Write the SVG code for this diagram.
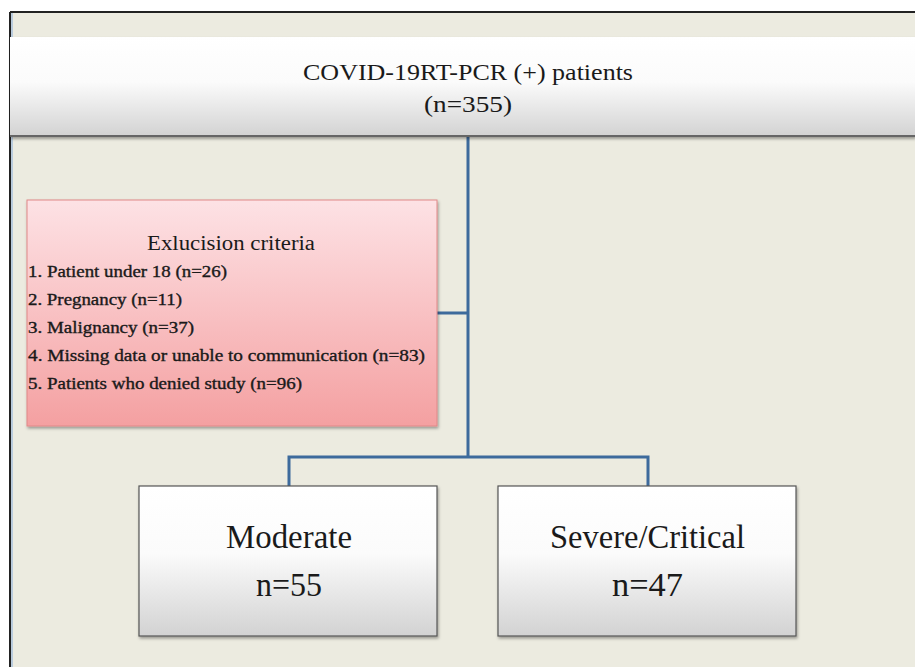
<svg xmlns="http://www.w3.org/2000/svg" width="915" height="667" viewBox="0 0 915 667">
<defs>
<linearGradient id="gw" x1="0" y1="0" x2="0" y2="1">
<stop offset="0" stop-color="#ffffff"/><stop offset="0.45" stop-color="#fbfbfb"/><stop offset="1" stop-color="#d2d2d2"/>
</linearGradient>
<linearGradient id="gp" x1="0" y1="0" x2="0" y2="1">
<stop offset="0" stop-color="#fde2e5"/><stop offset="1" stop-color="#f4a0a1"/>
</linearGradient>
<filter id="sh" x="-5%" y="-5%" width="115%" height="115%">
<feDropShadow dx="1" dy="2" stdDeviation="1.5" flood-color="#000" flood-opacity="0.35"/>
</filter>
<style>
.c{fill:none;stroke:#3d6a9c;stroke-width:3}
.box{stroke:#555;stroke-width:1.2}
</style>
</defs>
<rect width="915" height="667" fill="#ffffff"/>
<rect x="10" y="12" width="905" height="655" fill="#ecebe0"/>
<line x1="10" y1="12" x2="915" y2="12" stroke="#222" stroke-width="2"/>
<line x1="10" y1="12" x2="10" y2="667" stroke="#222" stroke-width="2"/>
<line x1="12" y1="13" x2="12" y2="667" stroke="#a8c0dc" stroke-width="1.5"/>
<g id="connectors">
<path class="c" d="M468 137 V457 M437 313 H468 M289 486 V457 H648 V486"/>
</g>
<g font-family="Liberation Serif, Times New Roman, Times, serif" fill="#1a1a1a">
<g id="top">
<rect x="10" y="37" width="905" height="100" fill="url(#gw)" filter="url(#sh)"/>
<line x1="10" y1="136" x2="915" y2="136" stroke="#666" stroke-width="2"/>
<text x="303" y="80" font-size="24" textLength="330" lengthAdjust="spacingAndGlyphs">COVID-19RT-PCR (+) patients</text>
<text x="424" y="112" font-size="24" textLength="88" lengthAdjust="spacingAndGlyphs">(n=355)</text>
</g>
<g id="exclusion">
<rect x="27" y="200" width="410" height="226" fill="url(#gp)" stroke="#e08888" stroke-width="1" filter="url(#sh)"/>
<text x="147" y="250" font-size="20" textLength="168" lengthAdjust="spacingAndGlyphs">Exlucision criteria</text>
<g font-size="16" stroke="#1a1a1a" stroke-width="0.35">
<text x="28" y="277" textLength="199" lengthAdjust="spacingAndGlyphs">1. Patient under 18 (n=26)</text>
<text x="28" y="305" textLength="154" lengthAdjust="spacingAndGlyphs">2. Pregnancy (n=11)</text>
<text x="28" y="333" textLength="166" lengthAdjust="spacingAndGlyphs">3. Malignancy (n=37)</text>
<text x="28" y="361" textLength="397" lengthAdjust="spacingAndGlyphs">4. Missing data or  unable to communication (n=83)</text>
<text x="28" y="389" textLength="274" lengthAdjust="spacingAndGlyphs">5. Patients who  denied study (n=96)</text>
</g>
</g>
<g id="moderate">
<rect class="box" x="139" y="486" width="298" height="150" fill="url(#gw)" filter="url(#sh)"/>
<text x="226" y="548" font-size="33" textLength="126" lengthAdjust="spacingAndGlyphs">Moderate</text>
<text x="256" y="596" font-size="33" textLength="66" lengthAdjust="spacingAndGlyphs">n=55</text>
</g>
<g id="severe">
<rect class="box" x="498" y="486" width="298" height="150" fill="url(#gw)" filter="url(#sh)"/>
<text x="550" y="548" font-size="33" textLength="195" lengthAdjust="spacingAndGlyphs">Severe/Critical</text>
<text x="612" y="596" font-size="33" textLength="71" lengthAdjust="spacingAndGlyphs">n=47</text>
</g>
</g>
</svg>
